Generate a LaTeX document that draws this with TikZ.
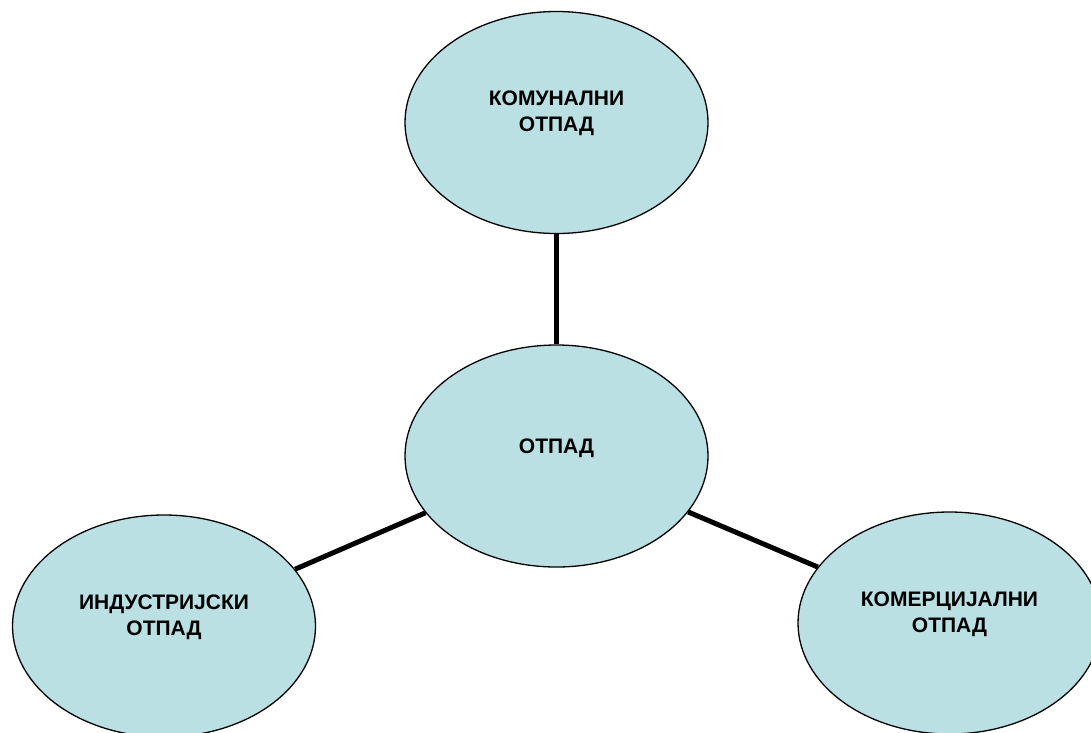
\documentclass[tikz,border=0pt]{standalone}
\usepackage{fontspec}
\setmainfont{Liberation Sans}
\usepackage{xcolor}
\usepackage{tikz}
\usetikzlibrary{shapes.geometric}
\definecolor{wastefill}{RGB}{186,224,227}

\begin{document}
\begin{tikzpicture}[x=1pt, y=-1pt,
    waste/.style={ellipse, draw, line width=1.3pt, fill=wastefill, minimum width=303pt, minimum height=222pt, inner sep=0pt},
    wastetext/.style={align=center, font=\fontsize{21}{26.5}\selectfont\bfseries},
    link/.style={line width=5pt}]
        \useasboundingbox (0, 0) rectangle (1091, 732);
        \clip (0, 0) rectangle (1091, 732);
        \node (komunalni) at (556.5, 122.5) [waste] {};
        \node (otpad) at (556.5, 456) [waste] {};
        \node (industrijski) at (164, 626) [waste] {};
        \node (komercijalni) at (949.5, 623) [waste] {};
        \node (komunalni-text) at ([yshift=9pt]komunalni.center) [wastetext] {КОМУНАЛНИ\\ОТПАД};
        \node (otpad-text) at ([yshift=8pt]otpad.center) [wastetext] {ОТПАД};
        \node (industrijski-text) at ([yshift=9pt]industrijski.center) [wastetext] {ИНДУСТРИЈСКИ\\ОТПАД};
        \node (komercijalni-text) at ([yshift=9pt]komercijalni.center) [wastetext] {КОМЕРЦИЈАЛНИ\\ОТПАД};
        \draw [link] (otpad) edge (komunalni);
        \draw [link] (otpad) edge (industrijski);
        \draw [link] (otpad) edge (komercijalni);
    \end{tikzpicture}
\end{document}
